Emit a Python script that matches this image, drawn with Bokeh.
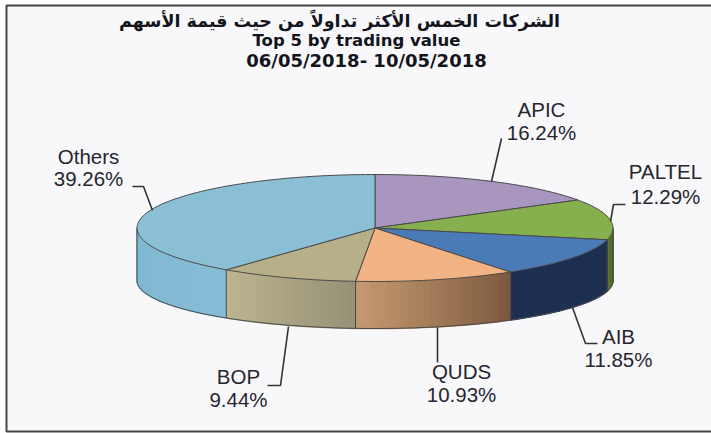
import math
from bokeh.plotting import figure
from bokeh.models import Range1d
from bokeh.core.properties import value
from bokeh.embed import file_html
from bokeh.resources import INLINE

categories = ["APIC", "PALTEL", "AIB", "QUDS", "BOP", "Others"]
shares = [16.24, 12.29, 11.85, 10.93, 9.44, 39.26]
title_lines = ["الشركات الخمس الأكثر تداولاً من حيث قيمة الأسهم",
               "Top 5 by trading value", "06/05/2018- 10/05/2018"]

top_colors = ["#a896bf", "#86b04e", "#4a7bb6", "#f1b383", "#b6af87", "#8bbfd6"]
side_from = ["#7d6e90", "#5a7430", "#1d3052", "#c69a70", "#bdb591", "#7fb6d0"]
side_to = ["#5c5070", "#46592a", "#1d3052", "#7b583e", "#959175", "#86bdd6"]

CX, CY, RX, RY = 374.5, 227.5, 238.0, 53.5
CY2, RY2 = 280.0, 48.0
BG = "#f8f7fa"
EDGE = "#4a4a4a"

label_pos = [(541, 109, 132), (665, 171, 196), (618, 336, 359),
             (461, 371, 394), (238, 376, 399), (88, 156, 178)]
leaders = [[(491, 181), (501, 138)],
           [(610, 221), (613, 204), (625, 204)],
           [(572, 307), (585, 343), (597, 343)],
           [(437, 327), (437, 362)],
           [(288, 326), (280, 385), (267, 385)],
           [(152, 210), (143, 186), (132, 186)]]

p = figure(width=711, height=433, output_backend="svg", toolbar_location=None,
           x_range=Range1d(0, 711), y_range=Range1d(433, 0), min_border=0,
           background_fill_color="white", border_fill_color="white",
           outline_line_color=None)
p.axis.visible = False
p.grid.visible = False
p.styles = {"position": "absolute", "left": "0px", "top": "0px"}

# panel frame
p.patch([6, 715, 715, 6], [5, 5, 431, 431], fill_color=BG,
        line_color="#454545", line_width=2)


def pt(a):
    return CX + RX * math.sin(a), CY - RY * math.cos(a)


def pb(a):
    return CX + RX * math.sin(a), CY2 - RY2 * math.cos(a)


def mix(c1, c2, t):
    a = [int(c1[i:i + 2], 16) for i in (1, 3, 5)]
    b = [int(c2[i:i + 2], 16) for i in (1, 3, 5)]
    return "#%02x%02x%02x" % tuple(round(u + (v - u) * t) for u, v in zip(a, b))


total = sum(shares)
starts = []
acc = 0.0
for s in shares:
    starts.append(acc / total * 2 * math.pi)
    acc += s
ends = starts[1:] + [2 * math.pi]

# side wall (only the front half is visible)
for i in range(len(shares)):
    a0 = max(starts[i], math.pi / 2)
    a1 = min(ends[i], 3 * math.pi / 2)
    if a1 <= a0:
        continue
    n = max(2, int((a1 - a0) / 0.03))
    steps = [a0 + (a1 - a0) * k / n for k in range(n + 1)]
    xs, ys, cols = [], [], []
    for k in range(n):
        x0, y0 = pt(steps[k])
        x1, y1 = pt(steps[k + 1])
        bx0, by0 = pb(steps[k])
        bx1, by1 = pb(steps[k + 1])
        xs.append([x0, x1, bx1, bx0])
        ys.append([y0, y1, by1, by0])
        cols.append(mix(side_to[i], side_from[i], (k + 0.5) / n))
    p.patches(xs, ys, fill_color=cols, line_color=cols, line_width=1.6)
    low = [pb(a) for a in steps]
    p.line([q[0] for q in low], [q[1] for q in low], line_color=EDGE, line_width=1)
    for a in (a0, a1):
        x, y = pt(a)
        bx, by = pb(a)
        p.line([x, bx], [y, by], line_color=EDGE, line_width=1)

# wedges on top
for i in range(len(shares)):
    n = max(2, int((ends[i] - starts[i]) / 0.02))
    steps = [starts[i] + (ends[i] - starts[i]) * k / n for k in range(n + 1)]
    arc = [pt(a) for a in steps]
    xs = [CX] + [q[0] for q in arc]
    ys = [CY] + [q[1] for q in arc]
    p.patch(xs, ys, fill_color=top_colors[i], line_color=EDGE, line_width=1,
            line_join="round")

# leaders
for seg in leaders:
    p.line([q[0] for q in seg], [q[1] for q in seg], line_color="#333333", line_width=1.6)

# labels
font = value("Liberation Sans")
for i, name in enumerate(categories):
    x, y1, y2 = label_pos[i]
    p.text([x], [y1], text=[name], text_font=font, text_font_size="20.5px",
           text_align="center", text_baseline="middle", text_color="#26262e")
    p.text([x], [y2], text=["%.2f%%" % shares[i]], text_font=font, text_font_size="20.5px",
           text_align="center", text_baseline="middle", text_color="#26262e")

# title
for txt, x, y, size in zip(title_lines, [339, 356, 366], [20, 40, 60],
                           ["17.5px", "16.5px", "18px"]):
    p.text([x], [y], text=[txt], text_font=value("DejaVu Sans"), text_font_size=size,
           text_font_style="bold", text_align="center", text_baseline="middle",
           text_color="#14141c")

open("out.html", "w").write(file_html(p, INLINE))
